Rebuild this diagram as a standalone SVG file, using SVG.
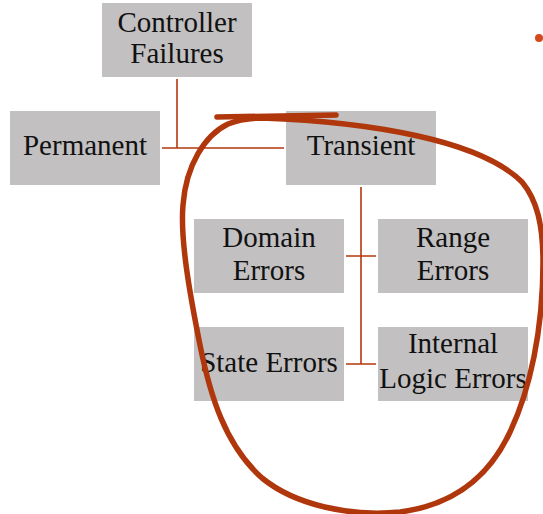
<svg xmlns="http://www.w3.org/2000/svg" width="543" height="514" viewBox="0 0 543 514">
  <style>
    .box { fill: #C2C0C1; }
    .lbl { font-family: "Liberation Serif", "DejaVu Serif", serif; font-size: 29px; fill: #111; text-anchor: middle; }
    .conn { stroke: #B5380E; stroke-width: 1.6; fill: none; }
    .ink { stroke: #B0360C; stroke-width: 5.5; fill: none; stroke-linecap: round; stroke-linejoin: round; }
  </style>
  <rect width="543" height="514" fill="#fff"/>

  <g id="connectors">
    <path class="conn" d="M177 79 V148 M162 148 H284"/>
    <path class="conn" d="M361 187 V364 M346 256 H376 M346 364 H376"/>
  </g>

  <g id="controller-failures">
    <rect class="box" x="102" y="3" width="150" height="74"/>
    <text class="lbl" x="177" y="32">Controller</text>
    <text class="lbl" x="177" y="63">Failures</text>
  </g>
  <g id="permanent">
    <rect class="box" x="10" y="111" width="150" height="74"/>
    <text class="lbl" x="85" y="155">Permanent</text>
  </g>
  <g id="transient">
    <rect class="box" x="286" y="111" width="150" height="74"/>
    <text class="lbl" x="361" y="155">Transient</text>
  </g>
  <g id="domain-errors">
    <rect class="box" x="194" y="219" width="150" height="74"/>
    <text class="lbl" x="269" y="247">Domain</text>
    <text class="lbl" x="269" y="280">Errors</text>
  </g>
  <g id="range-errors">
    <rect class="box" x="378" y="219" width="150" height="74"/>
    <text class="lbl" x="453" y="247">Range</text>
    <text class="lbl" x="453" y="280">Errors</text>
  </g>
  <g id="state-errors">
    <rect class="box" x="194" y="327" width="150" height="74"/>
    <text class="lbl" x="269" y="372">State Errors</text>
  </g>
  <g id="internal-logic-errors">
    <rect class="box" x="378" y="327" width="150" height="74"/>
    <text class="lbl" x="453" y="353">Internal</text>
    <text class="lbl" x="453" y="388">Logic Errors</text>
  </g>

  <!-- hand-drawn loop around the transient branch -->
  <g id="annotation">
    <path class="ink" d="M217 117 L336 115"/>
    <path class="ink" d="M262 118 C370 122 480 140 522 182 C537 200 543 225 543 262 C543 330 530 390 510 432 C490 475 455 505 400 512 C350 517 295 505 262 478 C225 445 210 395 200 345 C190 295 180 240 183 205 C186 165 205 135 228 124 C240 119 250 118 262 118 Z"/>
    <circle cx="539" cy="38" r="4" fill="#D24A1E"/>
  </g>
</svg>
